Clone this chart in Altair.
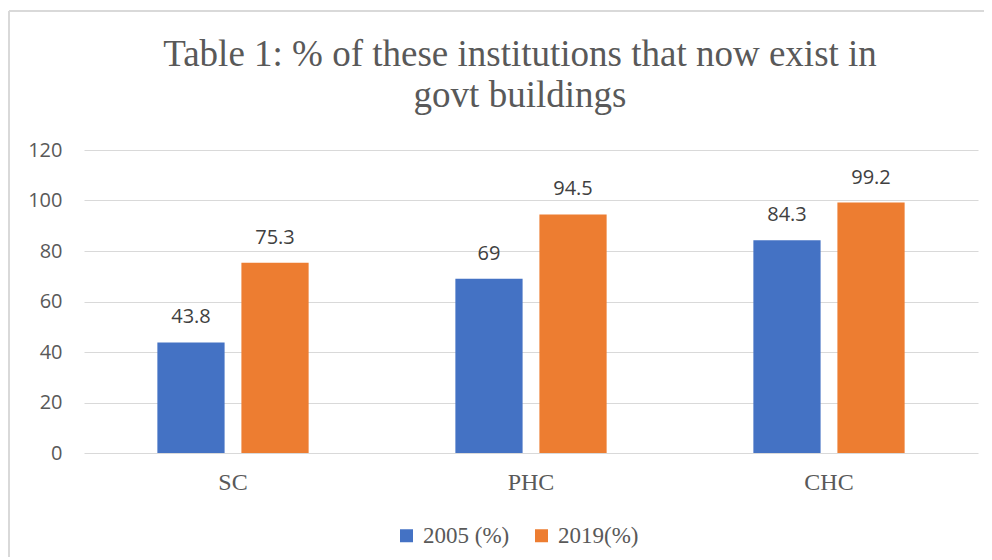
import altair as alt
import pandas as pd

categories = ["SC", "PHC", "CHC"]
series = ["2005 (%)", "2019(%)"]
values_2005 = [43.8, 69, 84.3]
values_2019 = [75.3, 94.5, 99.2]
colors = ["#4472C4", "#ED7D31"]
y_ticks = [0, 20, 40, 60, 80, 100, 120]

rows = []
for c, a, b in zip(categories, values_2005, values_2019):
    rows.append({"cat": c, "series": series[0], "value": a})
    rows.append({"cat": c, "series": series[1], "value": b})
df = pd.DataFrame(rows)

x = alt.X("cat:N", sort=categories, title=None,
          scale=alt.Scale(paddingInner=0.436, paddingOuter=0.218),
          axis=alt.Axis(labelAngle=0, labelFont="Liberation Serif", labelFontSize=24,
                        labelColor="#595959", labelPadding=17, ticks=False, domain=False))
xo = alt.XOffset("series:N", sort=series,
                 scale=alt.Scale(paddingInner=0.2, paddingOuter=0.1))
y = alt.Y("value:Q", title=None,
          scale=alt.Scale(domain=[0, 120], nice=False),
          axis=alt.Axis(values=y_ticks, labelFont="Open Sans", labelFontSize=20,
                        labelColor="#595959", labelPadding=22, ticks=False, domain=False,
                        gridColor="#d9d9d9", gridWidth=1))

bars = alt.Chart(df).mark_bar().encode(
    x=x, xOffset=xo, y=y,
    color=alt.Color("series:N", sort=series, title=None,
                    scale=alt.Scale(domain=series, range=colors),
                    legend=alt.Legend(orient="none", direction="horizontal",
                                      legendX=311, legendY=374,
                                      symbolType="square", symbolSize=169,
                                      symbolStrokeWidth=0,
                                      labelFont="Liberation Serif", labelFontSize=23,
                                      labelColor="#595959", labelOffset=5,
                                      columnPadding=20, padding=0)),
)

labels = alt.Chart(df).mark_text(font="Open Sans", fontSize=20, color="#404040",
                                 baseline="alphabetic", dy=-19).encode(
    x=alt.X("cat:N", sort=categories), xOffset=alt.XOffset("series:N", sort=series),
    y="value:Q",
    text=alt.Text("value:Q", format="~g"),
)

border_color = "#d9d9d9"
left_border = alt.Chart(df).mark_rule(color=border_color, strokeWidth=1.5).encode(
    x=alt.value(-75), y=alt.value(-139), y2=alt.value(420))
top_border = alt.Chart(df).mark_rule(color=border_color, strokeWidth=1.5).encode(
    x=alt.value(-75), x2=alt.value(920), y=alt.value(-139))

chart = (left_border + top_border + bars + labels).properties(
    width=894, height=303,
    padding={"left": 76, "top": 142, "right": 6, "bottom": 104},
    autosize=alt.AutoSizeParams(type="none"),
    title=alt.TitleParams(
        text=["Table 1: % of these institutions that now exist in", "govt buildings"],
        font="Liberation Serif", fontSize=37, fontWeight="normal", color="#595959",
        anchor="middle", frame="group", dx=-11, offset=-105, lineHeight=41),
).configure_view(stroke=None)

chart.save("out.html", embed_options={"renderer": "svg", "actions": False})
